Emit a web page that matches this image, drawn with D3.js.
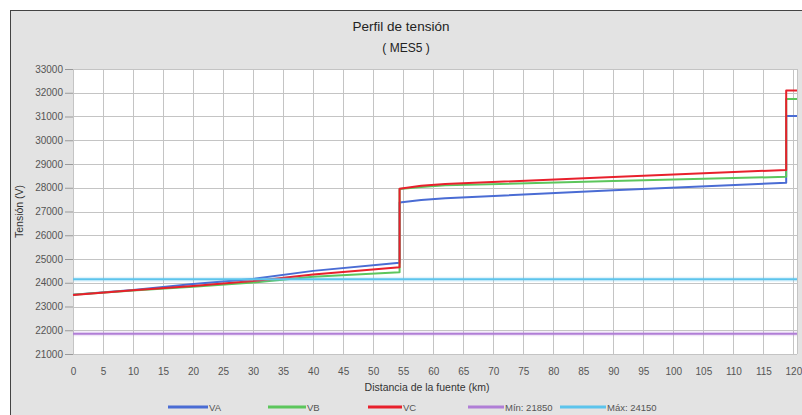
<!DOCTYPE html>
<html><head><meta charset="utf-8">
<script src="https://cdn.jsdelivr.net/npm/d3@7"></script>
<style>body{margin:0;background:#fff}svg{display:block;font-family:"Liberation Sans",Arial,sans-serif}</style>
</head><body><svg id="c" width="802" height="415"></svg>
<script>
const title = "Perfil de tensión";
const subtitle = "( MES5 )";
const xTitle = "Distancia de la fuente (km)";
const yTitle = "Tensión (V)";
const km = [0, 10, 20, 30, 40, 54.4, 54.4, 58, 62, 90, 118.8, 118.8, 120.6];
const VA = [23500, 23690, 23950, 24160, 24500, 24840, 27380, 27480, 27560, 27890, 28210, 31020, 31020];
const VB = [23490, 23670, 23830, 24010, 24250, 24440, 27950, 28030, 28100, 28280, 28460, 31740, 31740];
const VC = [23480, 23680, 23860, 24070, 24350, 24650, 27960, 28080, 28160, 28450, 28750, 32090, 32090];
const minLimit = 21850;
const maxLimit = 24150;
const seriesNames = ["VA", "VB", "VC", "Mín: 21850", "Máx: 24150"];
const seriesColors = ["#4a6cd4", "#5cc65c", "#e8202c", "#b07ed6", "#5cc4ec"];
const xTicks = d3.range(0, 121, 5);
const yTicks = d3.range(21000, 33001, 1000);

const svg = d3.select("#c");
const L = 73, R = 797, T = 69, B = 354;
const x = d3.scaleLinear().domain([0, 120.6]).range([L, R]);
const y = d3.scaleLinear().domain([21000, 33000]).range([B, T]);

svg.append("rect").attr("x", 10.5).attr("y", 10.5).attr("width", 800).attr("height", 410)
  .attr("fill", "#e3e3e3").attr("stroke", "#444");
svg.append("rect").attr("x", L).attr("y", T).attr("width", R - L).attr("height", B - T).attr("fill", "#fff");

// grid
svg.append("g").selectAll("line").data(xTicks).join("line")
  .attr("x1", d => Math.round(x(d)) + 0.5).attr("x2", d => Math.round(x(d)) + 0.5)
  .attr("y1", T).attr("y2", B).attr("stroke", "#c4c4c4");
svg.append("g").selectAll("line").data(yTicks).join("line")
  .attr("x1", L).attr("x2", R)
  .attr("y1", d => Math.round(y(d)) + 0.5).attr("y2", d => Math.round(y(d)) + 0.5).attr("stroke", "#c4c4c4");
svg.append("line").attr("x1", R + 0.5).attr("x2", R + 0.5).attr("y1", T).attr("y2", B).attr("stroke", "#c4c4c4");

// axes
const yAxis = svg.append("g").attr("transform", `translate(${L},0)`)
  .call(d3.axisLeft(y).tickValues(yTicks).tickSize(8).tickPadding(2).tickFormat(d3.format("d")));
yAxis.select(".domain").remove();
yAxis.selectAll(".tick line").attr("stroke", "#999");
yAxis.selectAll("text").attr("fill", "#555").attr("font-size", 10).attr("font-family", "Liberation Sans, Arial");

const xAxis = svg.append("g").attr("transform", `translate(0,${B})`)
  .call(d3.axisBottom(x).tickValues(xTicks).tickSize(0).tickPadding(14).tickFormat(d3.format("d")));
xAxis.select(".domain").remove();
xAxis.selectAll("text").attr("fill", "#555").attr("font-size", 10).attr("font-family", "Liberation Sans, Arial");

// titles
svg.append("text").attr("x", 401).attr("y", 31).attr("text-anchor", "middle")
  .attr("font-size", 13.5).attr("fill", "#222").text(title);
svg.append("text").attr("x", 406).attr("y", 52).attr("text-anchor", "middle")
  .attr("font-size", 12).attr("fill", "#222").text(subtitle);
svg.append("text").attr("x", 427).attr("y", 391).attr("text-anchor", "middle")
  .attr("font-size", 10.5).attr("fill", "#333").text(xTitle);
svg.append("text").attr("transform", `translate(23,${(T + B) / 2}) rotate(-90)`).attr("text-anchor", "middle")
  .attr("font-size", 10.5).attr("fill", "#333").text(yTitle);

// series
const line = d3.line().x(d => x(d[0])).y(d => y(d[1]));
const seriesData = [
  km.map((k, i) => [k, VA[i]]),
  km.map((k, i) => [k, VB[i]]),
  km.map((k, i) => [k, VC[i]]),
  [[0, minLimit], [120.6, minLimit]],
  [[0, maxLimit], [120.6, maxLimit]]
];
const plot = svg.append("g");
seriesData.forEach((d, i) => {
  if (i >= 3) {
    plot.append("path").datum(d).attr("d", line).attr("fill", "none")
      .attr("stroke", seriesColors[i]).attr("stroke-opacity", 0.18).attr("stroke-width", 5);
  }
  plot.append("path").datum(d).attr("d", line).attr("fill", "none")
    .attr("stroke", seriesColors[i]).attr("stroke-width", 2)
    .attr("stroke-linejoin", "round");
});

// legend
const legendX = [168, 268, 368, 468, 560];
const legendW = [40, 38, 34, 36, 46];
const lg = svg.append("g");
seriesNames.forEach((n, i) => {
  lg.append("line").attr("x1", legendX[i]).attr("x2", legendX[i] + legendW[i])
    .attr("y1", 407).attr("y2", 407).attr("stroke", seriesColors[i]).attr("stroke-width", 3);
  lg.append("text").attr("x", legendX[i] + legendW[i] + 1).attr("y", 410.5)
    .attr("font-size", 9.5).attr("fill", "#555").text(n);
});
</script></body></html>
